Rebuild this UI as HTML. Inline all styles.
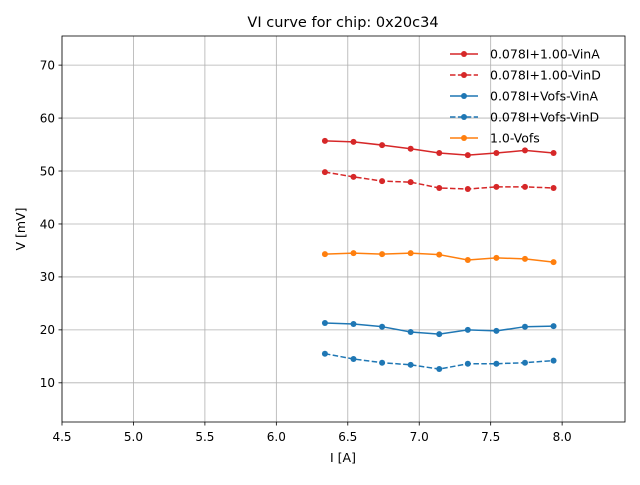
<!DOCTYPE html>
<html><head><meta charset="utf-8"><style>
body{margin:0;background:#fff;}
svg{font-family:"DejaVu Sans","Liberation Sans",sans-serif;}
</style></head><body>
<svg id="chart" width="640" height="480" viewBox="0 0 640 480" xmlns="http://www.w3.org/2000/svg"></svg>
<script>
const xValues=[6.34,6.54,6.74,6.94,7.14,7.34,7.54,7.74,7.94];
const vinA100=[55.7,55.5,54.9,54.2,53.4,53.0,53.4,53.9,53.4];
const vinD100=[49.8,48.9,48.1,47.9,46.8,46.6,47.0,47.0,46.8];
const vofs=[34.3,34.5,34.3,34.5,34.2,33.2,33.6,33.4,32.8];
const vinAVofs=[21.3,21.1,20.6,19.6,19.2,20.0,19.8,20.6,20.7];
const vinDVofs=[15.5,14.5,13.8,13.4,12.6,13.6,13.6,13.8,14.2];
const xTicks=[4.5,5.0,5.5,6.0,6.5,7.0,7.5,8.0];
const yTicks=[10,20,30,40,50,60,70];
const seriesNames=["0.078I+1.00-VinA","0.078I+1.00-VinD","0.078I+Vofs-VinA","0.078I+Vofs-VinD","1.0-Vofs"];

const L=62,R=625,T=36,B=422;
const xMin=4.5,xMax=8.44,yMin=2.6,yMax=75.5;
const sx=v=>L+(v-xMin)/(xMax-xMin)*(R-L);
const sy=v=>B-(v-yMin)/(yMax-yMin)*(B-T);
const svg=document.getElementById('chart');
const NS="http://www.w3.org/2000/svg";
function mk(tag,attrs,parent){const e=document.createElementNS(NS,tag);for(const k in attrs)e.setAttribute(k,attrs[k]);(parent||svg).appendChild(e);return e;}

xTicks.forEach(t=>{
  const x=sx(t);
  const g=mk('line',{x1:x,x2:x,y1:T,y2:B,stroke:'#b0b0b0','stroke-width':0.8});
  
  
  mk('line',{x1:x,x2:x,y1:B,y2:B+3.5,stroke:'#000','stroke-width':0.8});
  const tx=mk('text',{x:x,y:B+19,'font-size':12,'text-anchor':'middle'});
  tx.textContent=t.toFixed(1);
  
  
});
yTicks.forEach(t=>{
  const y=sy(t);
  const g=mk('line',{x1:L,x2:R,y1:y,y2:y,stroke:'#b0b0b0','stroke-width':0.8});
  
  
  mk('line',{x1:L-3.5,x2:L,y1:y,y2:y,stroke:'#000','stroke-width':0.8});
  const tx=mk('text',{x:L-7,y:y+4.3,'font-size':12,'text-anchor':'end'});
  tx.textContent=t;
  
  
});
const frame=mk('rect',{x:L,y:T,width:R-L,height:B-T,fill:'none',stroke:'#000','stroke-width':0.8});



const series=[
 {d:vinA100,c:'#d62728',dash:false},
 {d:vinD100,c:'#d62728',dash:true},
 {d:vinAVofs,c:'#1f77b4',dash:false},
 {d:vinDVofs,c:'#1f77b4',dash:true},
 {d:vofs,c:'#ff7f0e',dash:false}];
series.forEach((s,i)=>{
  const pts=xValues.map((x,j)=>sx(x)+','+sy(s.d[j])).join(' ');
  const pl=mk('polyline',{points:pts,fill:'none',stroke:s.c,'stroke-width':1.5,'stroke-dasharray':s.dash?'5.5,2.4':'none'});
  
  
  xValues.forEach((x,j)=>{
    const c=mk('circle',{cx:sx(x),cy:sy(s.d[j]),r:3,fill:s.c});
    
    
  });
  const ly=54+i*21;
  const ll=mk('line',{x1:450,x2:478,y1:ly,y2:ly,stroke:s.c,'stroke-width':1.5,'stroke-dasharray':s.dash?'5.5,2.4':'none'});
  
  
  mk('circle',{cx:464,cy:ly,r:3,fill:s.c});
  const lt=mk('text',{x:490,y:ly+4.5,'font-size':12.5});
  lt.textContent=seriesNames[i];
  
  
});
const title=mk('text',{x:343,y:27,'font-size':14.5,'text-anchor':'middle'});
title.textContent='VI curve for chip: 0x20c34';


const xl=mk('text',{x:343,y:462,'font-size':12.5,'text-anchor':'middle'});
xl.textContent='I [A]';


const yl=mk('text',{x:25,y:229,'font-size':12.5,'text-anchor':'middle',transform:'rotate(-90 25 229)'});
yl.textContent='V [mV]';


</script>
</body></html>
